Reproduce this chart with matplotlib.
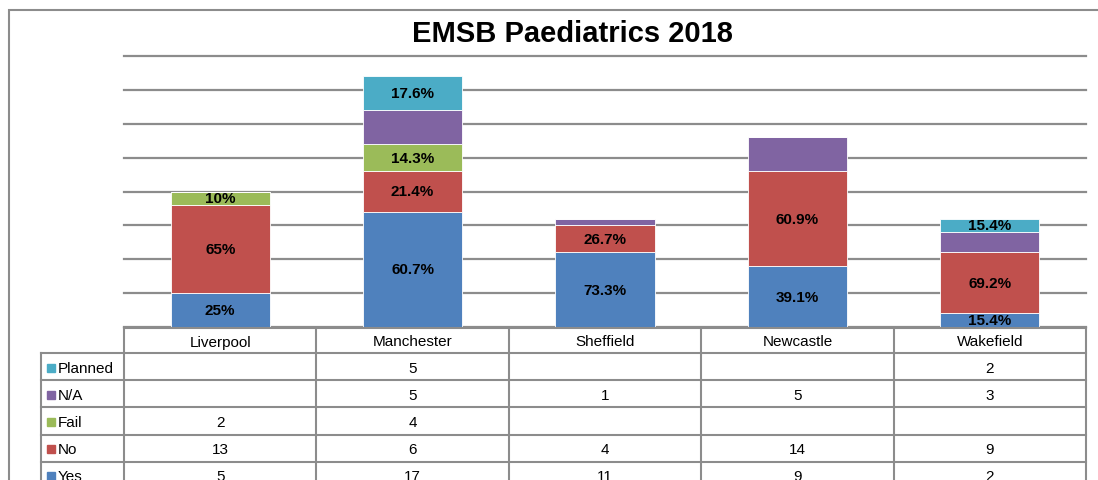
import numpy as np
import matplotlib.pyplot as plt
from matplotlib.patches import Rectangle
from matplotlib.lines import Line2D

plt.rcParams['font.family'] = ['Liberation Sans', 'DejaVu Sans']

# data
sites = ["Liverpool", "Manchester", "Sheffield", "Newcastle", "Wakefield"]
series = ["Yes", "No", "Fail", "N/A", "Planned"]
yes = [5, 17, 11, 9, 2]
no = [13, 6, 4, 14, 9]
fail = [2, 4, 0, 0, 0]
na = [0, 5, 1, 5, 3]
planned = [0, 5, 0, 0, 2]
# percentage labels shown inside the segments ("" = no label)
yes_lbl = ["25%", "60.7%", "73.3%", "39.1%", "15.4%"]
no_lbl = ["65%", "21.4%", "26.7%", "60.9%", "69.2%"]
fail_lbl = ["10%", "14.3%", "", "", ""]
na_lbl = ["", "", "", "", ""]
planned_lbl = ["", "17.6%", "", "", "15.4%"]

values = [yes, no, fail, na, planned]
labels = [yes_lbl, no_lbl, fail_lbl, na_lbl, planned_lbl]
colors = ["#4F81BD", "#C0504D", "#9BBB59", "#8064A2", "#4BACC6"]
grid_col = "#8c8c8c"

W, H = 1098, 481
fig = plt.figure(figsize=(W / 100, H / 100), dpi=100)

# outer chart border (right/bottom run off the picture)
fig.add_artist(Rectangle((9 / W, -0.1), 1.2, 1 - 11 / H + 0.1, transform=fig.transFigure,
                         fill=False, edgecolor="#8c8c8c", linewidth=1.5))

# main plot area (pixel positions from the reference)
x0, x1, ytop, ybot = 124, 1086, 57, 328
ax = fig.add_axes([x0 / W, 1 - ybot / H, (x1 - x0) / W, (ybot - ytop) / H])
x = np.arange(len(sites))
bottom = np.zeros(len(sites))
for vals, lbls, c in zip(values, labels, colors):
    ax.bar(x, vals, 0.515, bottom=bottom, color=c, edgecolor="white", linewidth=0.6, zorder=3)
    for i, (v, l) in enumerate(zip(vals, lbls)):
        if v > 0 and l:
            ax.text(x[i], bottom[i] + v / 2, l, ha="center", va="center",
                    fontsize=11, fontweight="bold", zorder=4)
    bottom += np.array(vals)

ax.set_xlim(-0.5, len(sites) - 0.5)
ax.set_ylim(0, 40)
ax.set_yticks(np.arange(0, 41, 5))
ax.yaxis.grid(True, color=grid_col, linewidth=1.6, zorder=0)
for gl in ax.get_ygridlines():
    gl.set_clip_on(False)
ax.tick_params(left=False, bottom=False, labelleft=False, labelbottom=False)
for s in ax.spines.values():
    s.set_visible(False)

fig.text(572 / W, 1 - 34 / H, "EMSB Paediatrics 2018", ha="center", va="center",
         fontsize=21, fontweight="bold")

# data table under the chart, drawn by hand in pixel coords
def px(xp, yp):
    return xp / W, 1 - yp / H

col_edges = np.linspace(x0, x1, len(sites) + 1)
head_top, head_bot = 329, 354
row_h = 27.2
row_order = ["Planned", "N/A", "Fail", "No", "Yes"]
row_vals = [planned, na, fail, no, yes]
row_cols = ["#4BACC6", "#8064A2", "#9BBB59", "#C0504D", "#4F81BD"]
lab_left = 41
n_rows = len(row_order)
row_edges = [head_bot + k * row_h for k in range(n_rows + 1)]

lw = 1.5
def hline(xa, xb, y):
    fig.add_artist(Line2D([xa / W, xb / W], [1 - y / H, 1 - y / H], color=grid_col, linewidth=lw))
def vline(xp, ya, yb):
    fig.add_artist(Line2D([xp / W, xp / W], [1 - ya / H, 1 - yb / H], color=grid_col, linewidth=lw))

hline(x0, x1, head_top)
for y in row_edges:
    hline(lab_left, x1, y)
for xe in col_edges:
    vline(xe, head_top, row_edges[-1])
vline(lab_left, head_bot, row_edges[-1])

# header row
for i, s in enumerate(sites):
    fig.text(*px((col_edges[i] + col_edges[i + 1]) / 2, (head_top + head_bot) / 2 + 1), s,
             ha="center", va="center", fontsize=11)

# rows with legend keys
for r, (name, vals, c) in enumerate(zip(row_order, row_vals, row_cols)):
    yc = (row_edges[r] + row_edges[r + 1]) / 2 + 1
    fig.add_artist(Rectangle((47 / W, 1 - (yc + 4) / H), 8 / W, 8 / H,
                             transform=fig.transFigure, color=c))
    fig.text(*px(58, yc), name, ha="left", va="center", fontsize=11)
    for i, v in enumerate(vals):
        if v > 0:
            fig.text(*px((col_edges[i] + col_edges[i + 1]) / 2, yc), str(v),
                     ha="center", va="center", fontsize=11)

plt.savefig("out.png", dpi=100)
